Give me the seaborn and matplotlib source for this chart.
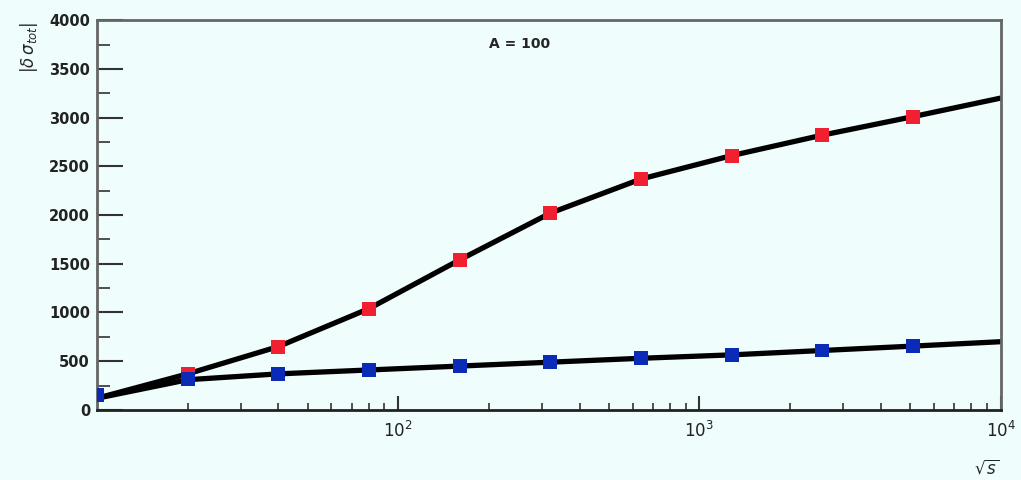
import numpy as np
import pandas as pd
import matplotlib
matplotlib.use("Agg")
import matplotlib.pyplot as plt
import seaborn as sns
from matplotlib.ticker import LogLocator, MultipleLocator, NullFormatter

# sqrt(s) values of the markers
sqrt_s = [10, 20, 40, 80, 160, 320, 640, 1280, 2560, 5120]
red_vals = [150, 370, 650, 1040, 1540, 2020, 2370, 2610, 2820, 3010]
blue_vals = [150, 320, 370, 410, 450, 490, 530, 560, 610, 660]

# curve drawn through the points, continued to the right edge
curve_x = [10, 20, 40, 80, 160, 320, 640, 1280, 2560, 5120, 10000]
red_curve = [120, 370, 650, 1040, 1540, 2020, 2370, 2610, 2820, 3010, 3200]
blue_curve = [120, 310, 370, 410, 450, 490, 530, 565, 610, 655, 700]

bg = "#effdfd"
sns.set_style("ticks")
plt.rcParams["font.family"] = ["DejaVu Sans"]

fig = plt.figure(figsize=(10.21, 4.8), dpi=100, facecolor=bg)
ax = fig.add_axes([0.095, 0.146, 0.885, 0.812])
ax.set_facecolor(bg)

curves = pd.DataFrame({"x": curve_x * 2,
                       "y": red_curve + blue_curve,
                       "s": ["red"] * len(curve_x) + ["blue"] * len(curve_x)})
sns.lineplot(data=curves, x="x", y="y", units="s", estimator=None,
             color="black", linewidth=3.8, ax=ax, legend=False, zorder=2)

sns.scatterplot(x=sqrt_s, y=red_vals, marker="s", s=100, color="#f02030",
                edgecolor="none", ax=ax, zorder=3)
sns.scatterplot(x=sqrt_s, y=blue_vals, marker="s", s=100, color="#0a2bb8",
                edgecolor="none", ax=ax, zorder=4)

ax.set_xscale("log")
ax.set_xlim(10, 10000)
ax.set_ylim(0, 4000)
ax.xaxis.set_minor_locator(LogLocator(base=10, subs=np.arange(2, 10), numticks=10))
ax.xaxis.set_minor_formatter(NullFormatter())
ax.set_xticks([100, 1000, 10000])
ax.set_xticklabels([r"$10^{2}$", r"$10^{3}$", r"$10^{4}$"])
ax.yaxis.set_major_locator(MultipleLocator(500))
ax.yaxis.set_minor_locator(MultipleLocator(250))

ax.tick_params(axis="y", which="major", direction="in", length=19,
               width=1.5, color="#333333", labelsize=10.5, pad=5)
ax.tick_params(axis="y", which="minor", direction="in", length=9,
               width=1.2, color="#333333")
ax.tick_params(axis="x", which="major", direction="in", length=10,
               width=1.5, color="#333333", labelsize=12, pad=8)
ax.tick_params(axis="x", which="minor", direction="in", length=5,
               width=1.2, color="#333333")
for lab in ax.get_yticklabels() + ax.get_xticklabels():
    lab.set_fontweight("bold")
    lab.set_color("#222222")

for side in ["top", "bottom", "left", "right"]:
    ax.spines[side].set_visible(True)
    ax.spines[side].set_linewidth(2)
    ax.spines[side].set_color("#666666")
ax.spines["bottom"].set_color("#222222")

ax.set_xlabel(r"$\sqrt{s}$", fontsize=12, fontweight="bold")
ax.xaxis.set_label_coords(0.985, -0.125)
ax.set_ylabel(r"$|\delta\,\sigma_{tot}|$", fontsize=12)
ax.yaxis.set_label_coords(-0.063, 0.93)

ax.text(0.468, 0.94, "A = 100", transform=ax.transAxes, ha="center", va="center",
        fontsize=10, fontweight="bold")

fig.savefig("out.png", dpi=100, facecolor=bg)
